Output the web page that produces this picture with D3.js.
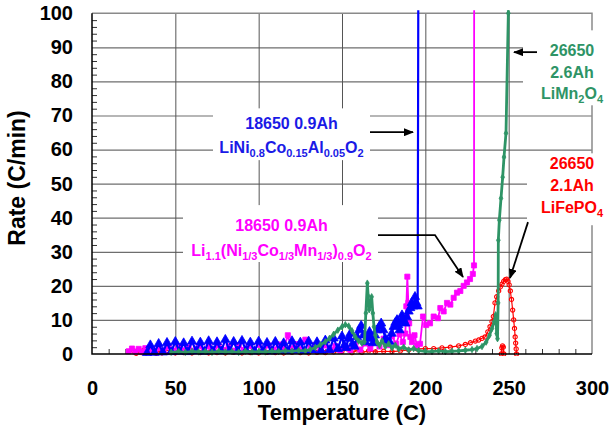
<!DOCTYPE html>
<html>
<head>
<meta charset="utf-8">
<script src="https://cdn.jsdelivr.net/npm/d3@7"></script>
<style>
  body { margin: 0; background: #fff; }
  svg { display: block; font-family: "Liberation Sans", Arial, sans-serif; }
</style>
</head>
<body>
<svg id="chart" width="610" height="439"></svg>
<script>
// axis ticks
const xTicks = [0, 50, 100, 150, 200, 250, 300];
const yTicks = [0, 10, 20, 30, 40, 50, 60, 70, 80, 90, 100];

// [temperature C, rate C/min]
const ncaData = [[33,0.3],[35,2.6],[37.5,0.4],[40,3.0],[42.5,0.5],[45,3.3],[47.5,0.6],[50,3.6],[52.5,0.7],[55,3.2],
  [57.5,0.6],[60,3.7],[62.5,0.8],[65,3.4],[67.5,0.7],[70,3.8],[72.5,0.9],[75,3.5],[77.5,0.8],[80,4.2],[82.5,0.9],
  [85,3.6],[87.5,0.8],[90,3.9],[92.5,1.0],[95,3.4],[97.5,0.8],[100,3.7],[102.5,0.9],[105,3.3],[107.5,0.8],[110,3.6],
  [112.5,1.0],[115,3.2],[117.5,0.9],[120,3.8],[122.5,1.0],[125,3.4],[127.5,0.9],[130,3.7],[132.5,1.1],[135,3.5],
  [137.5,1.0],[140,4.0],[142.5,1.2],[145,4.6],[147.5,1.5],[150,5.2],[151.3,2.5],[152.5,1.8],[153.8,4.5],[155,6.0],
  [156.3,3.0],[157.5,2.2],[159,5.0],[160.3,7.0],[161.5,8.3],[162.8,5.5],[164,3.5],[165.3,5.0],[166.5,6.5],[167.5,4.5],
  [168.5,3.2],[169.8,5.5],[171,7.0],[172.3,8.0],[173.5,9.0],[174.8,7.0],[176,4.5],[177.3,3.8],[178.5,3.6],[179.8,6.0],
  [181,8.0],[182,9.2],[183,10.0],[183.8,8.5],[184.5,7.0],[185.3,9.5],[186,11.4],[187,10.0],[188,9.0],[189,10.8],
  [190,12.5],[191,13.5],[191.8,15.0],[192.8,14.0],[193.8,16.8],[194.6,15.0],[195.4,14.0],[195.8,110]];

const nmcData = [[22,0.8],[24,1.6],[26,0.7],[28,1.5],[30,0.6],[32,1.7],[34,0.8],[36,1.4],[38,0.7],[40,1.8],[43,0.9],
  [46,2.1],[49,1.0],[52,2.3],[55,1.1],[58,2.0],[61,1.0],[64,2.4],[67,1.2],[70,2.2],[73,1.1],[76,2.5],[79,1.2],[82,2.3],
  [85,1.0],[88,2.6],[91,1.2],[94,2.4],[97,1.1],[100,2.7],[103,1.3],[106,2.5],[109,1.2],[112,2.8],[115,1.4],[117.5,5.5],
  [119.5,1.6],[122,2.9],[125,1.4],[128,4.2],[131,1.5],[134,2.7],[137,1.3],[140,2.5],[143,1.1],[146,2.3],[149,1.0],
  [152,2.1],[155,1.2],[158,2.6],[161,1.3],[164,3.1],[167,1.6],[170,3.4],[172.5,2.2],[175,4.5],[177.5,2.6],[180,5.2],
  [182.5,3.0],[184.5,5.8],[186.5,3.5],[188,6.0],[188.6,14],[189.2,22.7],[189.8,15],[190.3,9],[191,5],[192,3.5],
  [193.5,5.5],[195,2.5],[196.8,3.0],[198.6,11.0],[200.5,8.5],[202.8,9.0],[205,11.0],[207.6,10.5],[209,13.5],[211,12.5],
  [213,15.0],[215,14.5],[217,16.5],[219,18.0],[221,18.5],[223,20.0],[225,21.0],[226.8,22.0],[228.5,23.5],[229.2,26],
  [229.3,110]];

const lmoData = [[47.5,0.5],[52,0.7],[56,0.5],[60,0.8],[64,0.6],[68,0.7],[72,0.5],[76,0.8],[80,0.6],[84,0.7],[88,0.5],
  [92,0.8],[96,0.6],[100,0.7],[104,0.6],[108,0.8],[112,0.7],[116,0.9],[120,0.8],[124,1.0],[128,0.9],[131,1.3],[134,1.9],
  [137,2.7],[140,3.6],[142.5,4.6],[145,5.8],[147.5,7.0],[150,8.0],[152,8.6],[154,8.2],[156,6.8],[158,5.0],[160,3.8],
  [162,3.2],[163.5,3.6],[164.3,12],[165.2,20.8],[165.7,17],[166.3,13],[167,15],[167.8,16.8],[168.5,12],[169.2,8],
  [170,5.5],[171,3.5],[172.5,2.5],[174,3.8],[176,2.2],[178,3.0],[180,1.8],[182,2.6],[184,1.5],[187,2.0],[190,1.2],
  [193,1.6],[196,1.0],[200,0.8],[204,0.7],[208,0.9],[212,0.7],[216,0.8],[220,0.9],[224,1.1],[228,1.3],[231,1.6],
  [234,2.2],[236.5,3.5],[238.5,5.5],[240,7.5],[241.3,9.5],[242.2,11.5],[242.8,6],[243.3,4.5],[243.7,15],[243.8,33.4],
  [244.4,39.3],[245.4,45.7],[246.4,51.9],[247.2,57.8],[248.4,64.8],[249.8,100],[249.9,110]];

const lfpData = [[25,0.9],[26.5,0.2],[28,1.3],[29.5,0.4],[31,1.1],[32.5,0.3],[34,1.4],[35.5,0.5],[37,0.9],[38.5,0.2],
  [40,0.8],[42,0.3],[45,0.5],[50,0.3],[55,0.4],[60,0.3],[65,0.4],[70,0.3],[75,0.4],[80,0.3],[85,0.5],[90,0.3],[95,0.4],
  [100,0.3],[105,0.5],[110,0.4],[115,0.3],[120,0.5],[125,0.4],[130,0.3],[135,0.5],[140,0.4],[145,0.6],[150,0.8],
  [153,1.5],[156,0.4],[159,1.2],[162,0.5],[166,0.9],[170,0.6],[175,0.8],[180,0.7],[185,0.9],[190,1.2],[195,1.5],
  [200,1.6],[205,1.6],[210,1.8],[215,2.0],[220,2.4],[224,2.8],[227,3.3],[230,3.8],[232,4.1],[234,4.6],[235.8,5.0],
  [237.5,6.5],[238.8,8.0],[240,9.5],[240.8,11.0],[241.8,15.0],[242.8,16.8],[244,18.5],[245,19.7],[246,20.5],[247,21.3],
  [248,21.8],[248.8,22.0],[249.6,21.3],[250.3,20.3],[251,18.5],[251.7,16.0],[252.4,12.9],[253,10.0],[253.5,7.5],
  [253.9,5.0],[254.2,3.2],[254.5,1.5],[254.7,0]];

const lfpBlip = [[245.6,0],[245.9,1.8],[246.3,2.4],[246.8,2.0],[247.1,0]];

const svg = d3.select("#chart");
const x = d3.scaleLinear().domain([0, 300]).range([92, 592]);
const y = d3.scaleLinear().domain([0, 100]).range([354, 13.3]);
const plotW = x(300) - x(0), plotH = y(0) - y(100);

svg.append("rect").attr("width", 610).attr("height", 439).attr("fill", "#fff");

// grid
const gy = svg.append("g").attr("transform", `translate(${x(0)},0)`)
  .call(d3.axisLeft(y).tickValues(yTicks.slice(1, -1)).tickSize(-plotW).tickFormat(""));
gy.select(".domain").remove();
gy.selectAll("line").attr("stroke", "#6e6e6e").attr("stroke-width", 1.2);

const gx = svg.append("g").attr("transform", `translate(0,${y(0)})`)
  .call(d3.axisBottom(x).tickValues(xTicks.slice(1, -1)).tickSize(-plotH).tickFormat(""));
gx.select(".domain").remove();
gx.selectAll("line").attr("stroke", "#555").attr("stroke-width", 1);

// top + right frame
svg.append("path")
  .attr("d", `M${x(0)},${y(100)}H${x(300)}V${y(0)}`)
  .attr("fill", "none").attr("stroke", "#8a8a8a").attr("stroke-width", 1.5);

// minor ticks
const yMinor = d3.range(2, 100, 2).filter(v => v % 10 !== 0);
const xMinor = d3.range(10, 300, 10).filter(v => v % 50 !== 0);
svg.append("g").attr("transform", `translate(${x(0)},0)`)
  .call(d3.axisLeft(y).tickValues(yMinor).tickSize(-5).tickFormat(""))
  .call(g => g.select(".domain").remove())
  .selectAll("line").attr("stroke", "#333");
svg.append("g").attr("transform", `translate(0,${y(0)})`)
  .call(d3.axisBottom(x).tickValues(xMinor).tickSize(-5).tickFormat(""))
  .call(g => g.select(".domain").remove())
  .selectAll("line").attr("stroke", "#333");

// series
svg.append("clipPath").attr("id", "clip")
  .append("rect").attr("x", x(0)).attr("y", y(100) - 3).attr("width", plotW).attr("height", plotH + 5);
const plot = svg.append("g").attr("clip-path", "url(#clip)");
const line = d3.line().x(d => x(d[0])).y(d => y(d[1]));

function series(data, color, lw, shape, size, hollow) {
  const g = plot.append("g");
  g.append("path").datum(data).attr("d", line)
    .attr("fill", "none").attr("stroke", color).attr("stroke-width", lw).attr("stroke-linejoin", "round");
  g.selectAll("path.pt").data(data.filter(d => d[1] <= 100)).enter().append("path")
    .attr("class", "pt")
    .attr("transform", d => `translate(${x(d[0])},${y(d[1])})`)
    .attr("d", d3.symbol().type(shape).size(size))
    .attr("fill", hollow ? "none" : color)
    .attr("stroke", color).attr("stroke-width", hollow ? 1.1 : 0.8);
}

series(lfpData, "#ff0000", 1.2, d3.symbolCircle, 14, true);
series(lfpBlip, "#ff0000", 1.5, d3.symbolCircle, 14, true);
series(nmcData, "#ff00ff", 1.8, d3.symbolSquare, 26, false);
series(ncaData, "#0000ff", 2.2, d3.symbolTriangle, 36, false);
series(lmoData, "#2e9466", 2.8, d3.symbolDiamond, 12, false);

// axes lines
svg.append("path").attr("d", `M${x(0)},${y(100)}V${y(0)}H${x(300)}`)
  .attr("fill", "none").attr("stroke", "#000").attr("stroke-width", 1.5);

// tick labels
const ly = svg.append("g").attr("transform", `translate(${x(0)},0)`)
  .call(d3.axisLeft(y).tickValues(yTicks).tickSize(0).tickPadding(19));
ly.select(".domain").remove();
const lx = svg.append("g").attr("transform", `translate(0,${y(0)})`)
  .call(d3.axisBottom(x).tickValues(xTicks).tickSize(0).tickPadding(27));
lx.select(".domain").remove();
svg.selectAll(".tick text").attr("font-size", 20).attr("font-weight", "bold")
  .attr("font-family", "Liberation Sans, Arial, sans-serif").attr("fill", "#000");

svg.append("text").attr("transform", "translate(25,178) rotate(-90)")
  .attr("text-anchor", "middle").attr("font-size", 23).attr("font-weight", "bold").text("Rate (C/min)");
svg.append("text").attr("x", x(150)).attr("y", 420)
  .attr("text-anchor", "middle").attr("font-size", 22).attr("font-weight", "bold").text("Temperature (C)");

// annotations: boxes [t0, r0, t1, r1]
const labelBoxes = [[72.6, 72.1, 166.8, 56.9], [54.6, 43.7, 171.6, 27.0], [258.6, 95, 312, 73], [261, 58.9, 312, 37.8]];
svg.selectAll("rect.box").data(labelBoxes).enter().append("rect").attr("class", "box")
  .attr("x", d => x(d[0])).attr("y", d => y(d[1]))
  .attr("width", d => x(d[2]) - x(d[0])).attr("height", d => y(d[3]) - y(d[1]))
  .attr("fill", "#fff");

// label lines: [t, r, color, parts]  (parts: [text, subscript])
const labelLines = [
  [119.7, 67.7, "#1a1ae6", [["18650 0.9Ah", 0]]],
  [119.7, 60.7, "#1a1ae6", [["LiNi", 0], ["0.8", 1], ["Co", 0], ["0.15", 1], ["Al", 0], ["0.05", 1], ["O", 0], ["2", 1]]],
  [113.7, 37.8, "#ff00ff", [["18650 0.9Ah", 0]]],
  [113.7, 30.5, "#ff00ff", [["Li", 0], ["1.1", 1], ["(Ni", 0], ["1/3", 1], ["Co", 0], ["1/3", 1], ["Mn", 0], ["1/3", 1], [")", 0], ["0.9", 1], ["O", 0], ["2", 1]]],
  [288, 89.1, "#2e9466", [["26650", 0]]],
  [288, 82.7, "#2e9466", [["2.6Ah", 0]]],
  [288, 76.5, "#2e9466", [["LiMn", 0], ["2", 1], ["O", 0], ["4", 1]]],
  [288, 56.0, "#ff0000", [["26650", 0]]],
  [288, 49.6, "#ff0000", [["2.1Ah", 0]]],
  [288, 43.1, "#ff0000", [["LiFePO", 0], ["4", 1]]]
];
labelLines.forEach(([t, r, color, parts]) => {
  const txt = svg.append("text").attr("x", x(t)).attr("y", y(r) + 6)
    .attr("text-anchor", "middle").attr("font-size", 16).attr("font-weight", "bold").attr("fill", color);
  let shifted = false;
  parts.forEach(([s, sub]) => {
    const ts = txt.append("tspan").text(s);
    if (sub && !shifted) { ts.attr("dy", 4).attr("font-size", 11); shifted = true; }
    else if (sub) { ts.attr("font-size", 11); }
    else if (shifted) { ts.attr("dy", -4); shifted = false; }
  });
});

// arrows
svg.append("defs").append("marker").attr("id", "arrow")
  .attr("viewBox", "0 0 10 8").attr("refX", 9).attr("refY", 4)
  .attr("markerWidth", 10).attr("markerHeight", 8).attr("markerUnits", "userSpaceOnUse")
  .attr("orient", "auto")
  .append("path").attr("d", "M0,0L10,4L0,8Z").attr("fill", "#000");

const arrows = [
  [[166.8, 65.1], [192.6, 65.1]],
  [[171.6, 34.9], [205.8, 34.9], [222.6, 22.6]],
  [[267, 88.6], [253.2, 88.6]],
  [[261.6, 38.7], [250.8, 22.3]]
];
svg.selectAll("path.arrow").data(arrows).enter().append("path").attr("class", "arrow")
  .attr("d", d3.line().x(d => x(d[0])).y(d => y(d[1])))
  .attr("fill", "none").attr("stroke", "#000").attr("stroke-width", 1.8)
  .attr("marker-end", "url(#arrow)");
</script>
</body>
</html>
